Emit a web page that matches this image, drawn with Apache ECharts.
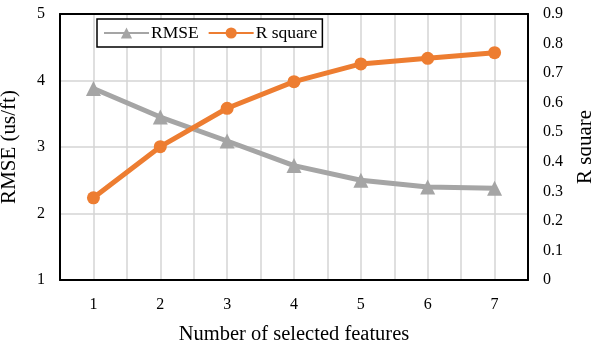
<!DOCTYPE html>
<html>
<head>
<meta charset="utf-8">
<script src="https://cdn.jsdelivr.net/npm/echarts@6/dist/echarts.min.js"></script>
<style>html,body{margin:0;padding:0;background:#fff;}#c{width:591px;height:343px;}</style>
</head>
<body>
<div id="c"></div>
<script>
var categories = [1, 2, 3, 4, 5, 6, 7];
var rmse = [3.88, 3.45, 3.09, 2.72, 2.50, 2.40, 2.38];
var rsquare = [0.278, 0.451, 0.581, 0.671, 0.731, 0.750, 0.769];
var leftTicks = {min: 1, max: 5, interval: 1};
var rightTicks = {min: 0, max: 0.9, interval: 0.1};

var font = 'Liberation Serif';
var chart = echarts.init(document.getElementById('c'), null, {renderer: 'canvas'});
function pairs(vals) { return categories.map(function (c, i) { return [c, vals[i]]; }); }
var border = {show: true, onZero: false, lineStyle: {color: '#000', width: 2}};

chart.setOption({
  animation: false,
  backgroundColor: '#fff',
  textStyle: {fontFamily: font},
  grid: {left: 60, right: 63, top: 14, bottom: 63, containLabel: false, outerBoundsMode: 'none'},
  legend: {
    left: 97, top: 19,
    data: ['RMSE', 'R square'],
    backgroundColor: '#fff',
    borderColor: '#000', borderWidth: 1.5,
    padding: [5, 5, 5, 6],
    itemWidth: 45, itemHeight: 14, itemGap: 9,
    textStyle: {fontFamily: font, fontSize: 17.5, color: '#000', padding: [0, 0, 0, -3]}
  },
  xAxis: [{
    type: 'value', min: 0.5, max: 7.5, interval: 0.5, position: 'bottom',
    name: 'Number of selected features', nameLocation: 'middle', nameGap: 44,
    nameTextStyle: {fontFamily: font, fontSize: 20.5, color: '#000'},
    axisLine: border, axisTick: {show: false},
    axisLabel: {fontFamily: font, fontSize: 16, color: '#000', margin: 17,
      formatter: function (v) { return Number.isInteger(v) ? String(v) : ''; }},
    splitLine: {show: true, lineStyle: {color: '#d4d4d4', width: 1.5}}
  }, {
    type: 'value', min: 0.5, max: 7.5, interval: 0.5, position: 'top',
    axisLine: border, axisTick: {show: false}, axisLabel: {show: false}, splitLine: {show: false}
  }],
  yAxis: [{
    type: 'value', min: leftTicks.min, max: leftTicks.max, interval: leftTicks.interval,
    position: 'left',
    name: 'RMSE (us/ft)', nameLocation: 'middle', nameGap: 40, nameRotate: 90,
    nameTextStyle: {fontFamily: font, fontSize: 21, color: '#000'},
    axisLine: border, axisTick: {show: false},
    axisLabel: {fontFamily: font, fontSize: 16, color: '#000', margin: 15},
    splitLine: {show: true, lineStyle: {color: '#d4d4d4', width: 1.5}}
  }, {
    type: 'value', min: rightTicks.min, max: rightTicks.max, interval: rightTicks.interval,
    position: 'right',
    name: 'R square', nameLocation: 'middle', nameGap: 47, nameRotate: 90,
    nameTextStyle: {fontFamily: font, fontSize: 21, color: '#000'},
    axisLine: border, axisTick: {show: false},
    axisLabel: {fontFamily: font, fontSize: 16, color: '#000', margin: 15,
      formatter: function (v) { return v === 0 ? '0' : v.toFixed(1); }},
    splitLine: {show: false}
  }],
  series: [{
    name: 'RMSE', type: 'line', yAxisIndex: 0, data: pairs(rmse),
    symbol: 'triangle', symbolSize: 15,
    lineStyle: {color: '#A5A5A5', width: 5},
    itemStyle: {color: '#A5A5A5'}, z: 3
  }, {
    name: 'R square', type: 'line', yAxisIndex: 1, data: pairs(rsquare),
    symbol: 'circle', symbolSize: 13,
    lineStyle: {color: '#ED7D31', width: 5},
    itemStyle: {color: '#ED7D31'}, z: 4
  }]
});
</script>
</body>
</html>
